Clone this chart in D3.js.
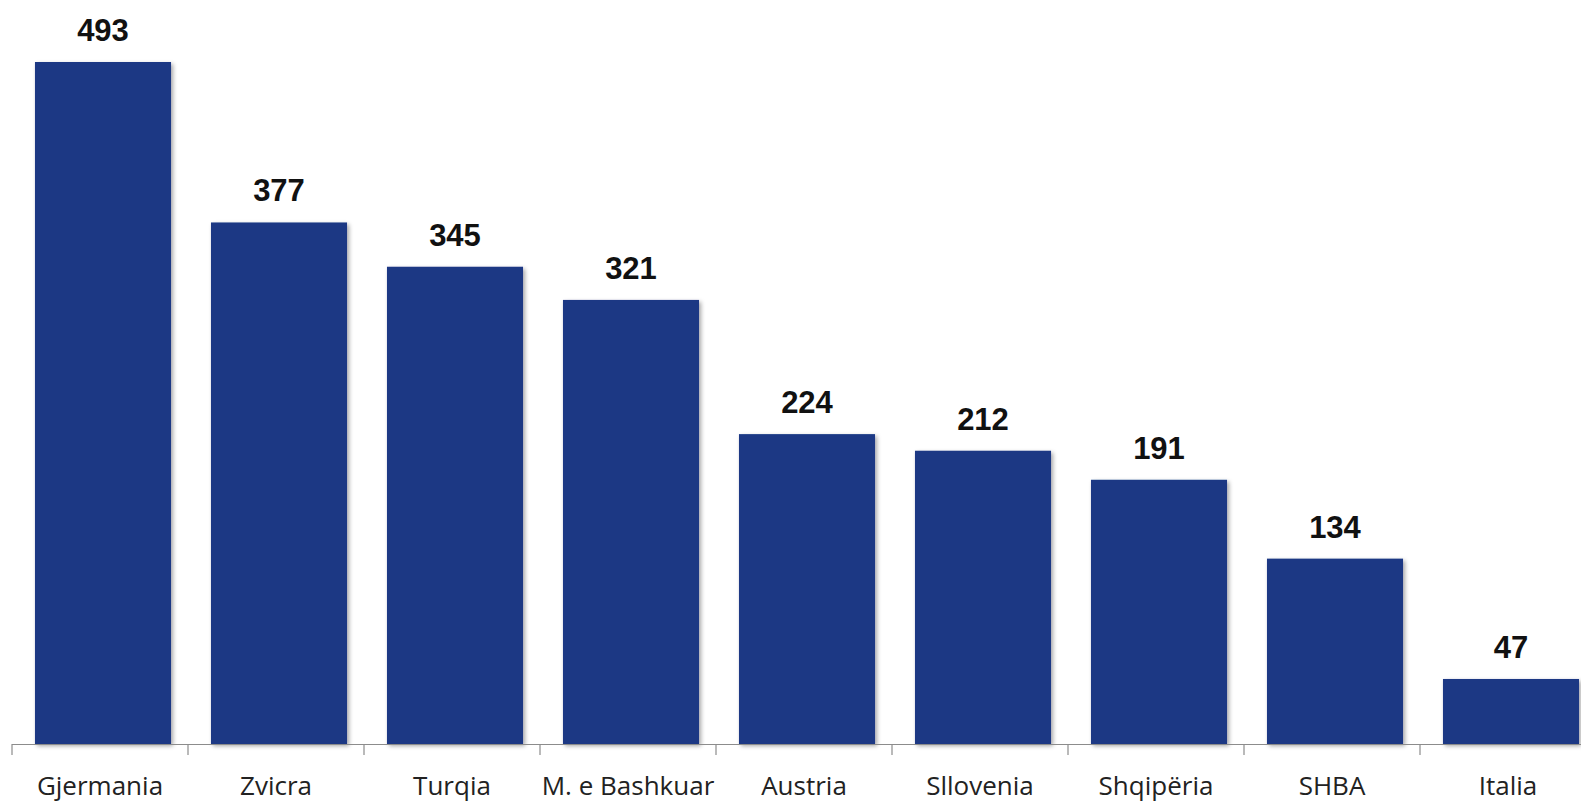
<!DOCTYPE html>
<html>
<head>
<meta charset="utf-8">
<script src="https://cdn.jsdelivr.net/npm/d3@7"></script>
<style>
  body { margin: 0; background: #fff; }
  svg { display: block; }
  .value { font-family: "Liberation Sans", Arial, sans-serif; font-weight: bold; font-size: 31px; fill: #111; }
  .cat { font-family: "Open Sans", "Liberation Sans", sans-serif; font-size: 26px; fill: #222; }
</style>
</head>
<body>
<svg id="chart" width="1581" height="803"></svg>
<script>
// data
const countries = ["Gjermania", "Zvicra", "Turqia", "M. e Bashkuar", "Austria", "Sllovenia", "Shqipëria", "SHBA", "Italia"];
const values = [493, 377, 345, 321, 224, 212, 191, 134, 47];

const baseY = 744, topY = 62, left = 12, step = 176;

let svg = d3.select("#chart")

let defs = svg.append("defs")
let filt = defs.append("filter").attr("id", "shadow")
    .attr("x", "-10%").attr("y", "-10%").attr("width", "130%").attr("height", "130%")
filt.append("feDropShadow").attr("dx", 2).attr("dy", 2).attr("stdDeviation", 2)
    .attr("flood-color", "#000").attr("flood-opacity", 0.35)

let xScale = d3.scaleBand().domain(countries)
    .range([left, left + step * countries.length])
    .paddingInner(0.227).paddingOuter(0.1135)
let yScale = d3.scaleLinear().domain([0, 493]).range([baseY, topY])

let data = countries.map((c, i) => ({name: c, v: values[i]}))

// bars
svg.selectAll(".bar")
    .data(data)
    .enter()
    .append("rect")
    .attr("class", "bar")
    .attr("x", d => xScale(d.name) + 3)
    .attr("y", d => yScale(d.v))
    .attr("width", xScale.bandwidth())
    .attr("height", d => baseY - yScale(d.v))
    .attr("fill", "#1a3884")
    .attr("filter", "url(#shadow)")

// value labels
svg.selectAll(".value")
    .data(data)
    .enter()
    .append("text")
    .attr("class", "value")
    .attr("x", d => xScale(d.name) + 3 + xScale.bandwidth() / 2)
    .attr("y", d => yScale(d.v) - 21)
    .attr("text-anchor", "middle")
    .text(d => d.v)

// x axis with ticks between categories
let axis = svg.append("g").attr("class", "axis")
axis.append("line")
    .attr("x1", left).attr("x2", 1581)
    .attr("y1", baseY + 0.5).attr("y2", baseY + 0.5)
    .attr("stroke", "#8c8c8c").attr("stroke-width", 1.2)
axis.selectAll(".tick")
    .data(d3.range(countries.length + 1))
    .enter()
    .append("line")
    .attr("x1", i => left + i * xScale.step())
    .attr("x2", i => left + i * xScale.step())
    .attr("y1", baseY).attr("y2", baseY + 11)
    .attr("stroke", "#8c8c8c").attr("stroke-width", 1.2)

axis.selectAll(".cat")
    .data(countries)
    .enter()
    .append("text")
    .attr("class", "cat")
    .attr("x", d => xScale(d) + xScale.bandwidth() / 2)
    .attr("y", 795)
    .attr("text-anchor", "middle")
    .text(d => d)
</script>
</body>
</html>
